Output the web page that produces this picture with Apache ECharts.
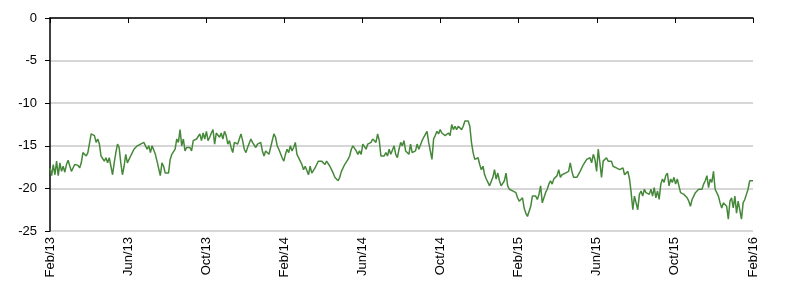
<!DOCTYPE html>
<html>
<head>
<meta charset="utf-8">
<script src="https://cdn.jsdelivr.net/npm/echarts@6/dist/echarts.min.js"></script>
<style>
html,body{margin:0;padding:0;background:#fff;}
#chart{width:800px;height:293px;}
</style>
</head>
<body>
<div id="chart"></div>
<script>
// Tick labels for the x axis, one every 4 months from Feb/13 to Feb/16
const tickLabels = ["Feb/13","Jun/13","Oct/13","Feb/14","Jun/14","Oct/14","Feb/15","Jun/15","Oct/15","Feb/16"];
const monthsSpan = 36;

const values2013a = [
-17.6,-18.5,-17.2,-18.4,-16.8,-18.5,-17.0,-18.0,-17.4,-18.1,-17.2,-16.7,-16.8,-18.0,-17.6,-17.2,-17.4,-17.3,-17.6,-17.0,
-15.8,-15.6,-16.2,-15.8,-15.6,-13.6,-13.6,-13.8,-14.6,-14.2,-14.8,-16.2,-16.4,-16.8,-16.4,-17.0,-16.4,-17.4,-18.4,-17.0,
-15.8,-14.8,-15.2,-17.0,-18.4,-17.4,-16.0,-17.0,-16.6,-16.2,-15.8,-15.4,-15.3,-15.0,-15.0,-14.8,-15.0,-14.6,-15.0,-15.4,
-15.0,-15.8,-15.0,-15.2,-16.0,-16.8,-17.0,-18.5,-17.0,-17.4,-18.2,-18.0
];
const values2013b = [
-18.2,-16.6,-16.0,-16.2,-15.4,-14.2,-14.6,-13.1,-15.0,-14.2,
-15.6,-15.2,-15.4,-15.2,-15.6,-14.4,-14.6,-14.2,-14.4,-13.6,
-14.4,-13.5,-14.2,-13.3,-14.4,-14.0,-13.5,-13.1,-14.8,-13.5,
-13.3,-14.0,-13.5,-14.2,-13.3,-13.8,-14.8,-14.4,-15.2,-15.8,
-14.6,-14.4,-14.8,-14.2,-13.6,-14.4,-15.4,-15.8,-15.2,-15.4,
-14.2,-14.6,-14.4,-15.2,-14.8,-15.0,-14.6,-15.6,-16.2,-15.6,
-15.4,-16.0,-15.2,-14.4,-13.6,-14.0,-15.0,-15.4,-15.6,-16.4,
-16.8
];
const values2014a = [
-16.0,-15.4,-15.8,-15.0,-15.6,-15.2,-14.6,-16.0,-15.8,-16.8,
-17.2,-17.8,-17.4,-17.6,-18.4,-17.4,-18.2,-18.0,-17.6,-17.2,
-16.8,-16.6,-16.8,-17.0,-17.2,-16.8,-17.0,-17.4,-17.8,-18.2,
-18.7,-18.9,-19.1,-18.7,-18.0,-17.8,-17.2,-17.0,-16.6,-16.2,
-15.4,-15.0,-15.2,-15.6,-16.0,-15.6,-16.0,-14.8,-15.0,-15.4,
-14.8,-15.0,-14.6,-14.2,-14.0,-14.6,-13.6,-14.4,-16.2,-16.0,
-16.2,-15.8,-16.2,-15.4,-16.0,-16.2,-15.0,-16.0,-16.4,-15.4,
-14.6
];
const values2014b = [
-15.0,-14.4,-15.6,-15.4,-16.0,-14.8,-15.8,-16.0,-15.6,-14.8,
-15.4,-15.2,-14.4,-14.0,-14.2,-13.3,-14.6,-14.4,-16.6,-14.2,
-13.8,-13.3,-13.6,-13.1,-13.5,-13.6,-13.8,-13.6,-13.5,-13.8,
-12.5,-13.1,-12.7,-13.1,-12.7,-12.9,-13.1,-12.7,-12.1,-12.3,
-12.1,-12.7,-14.6,-15.8,-16.6,-16.8,-16.4,-17.2,-17.8,-17.4,
-18.4,-18.9,-19.3,-19.7,-19.5,-18.7,-17.8,-18.9,-18.2,-19.1,
-19.7,-19.9,-19.1,-18.2,-19.7,-20.1,-19.9,-20.3,-20.1,-20.5,
-21.1,-21.5
];
const values2015a = [
-21.3,-21.1,-22.3,-22.9,-23.3,-23.1,-22.1,-20.9,-20.7,-20.9,
-21.3,-20.7,-19.7,-21.7,-21.5,-20.5,-20.1,-19.5,-19.1,-19.5,
-18.9,-18.7,-18.5,-17.8,-18.7,-18.4,-18.5,-18.2,-18.4,-18.0,
-17.0,-18.0,-18.7,-18.9,-18.7,-18.9,-18.0,-18.0,-17.2,-17.4,
-16.6,-16.8,-16.4,-17.0,-16.0,-16.6,-18.0,-15.4,-17.0,-18.7,
-16.8,-16.8,-16.4,-16.8,-17.0,-16.8,-17.4,-17.2,-17.6,-17.4,
-17.8,-18.0,-17.6,-18.4,-18.5,-18.0,-18.9,-20.5,-22.5,-20.9,
-21.1
];
const values2015b = [
-22.5,-20.7,-20.3,-20.9,-20.1,-20.5,-20.3,-20.7,-20.1,-20.9,
-19.9,-21.1,-20.3,-21.3,-19.5,-18.9,-19.3,-18.5,-18.2,-19.7,
-18.9,-19.3,-18.7,-19.5,-18.9,-19.7,-20.5,-20.7,-20.7,-20.9,
-21.1,-21.5,-22.1,-21.3,-20.9,-20.5,-20.3,-20.1,-19.9,-20.1,
-19.5,-19.1,-18.5,-19.9,-18.9,-19.3,-18.0,-20.1,-20.3,-20.9,
-21.7,-22.3,-21.7,-21.5,-22.1,-23.6,-21.5,-21.1,-22.3,-20.9,
-22.9,-21.5,-21.3,-23.6,-21.7,-21.3,-20.7,-20.1,-19.1,-19.3,
-19.1
];

const values = [].concat(values2013a, values2013b, values2014a, values2014b, values2015a, values2015b);
const seriesData = values.map((v, i) => [i * monthsSpan / (values.length - 1), v]);

const chart = echarts.init(document.getElementById('chart'), null, {renderer: 'canvas'});
chart.setOption({
  animation: false,
  backgroundColor: '#ffffff',
  grid: {left: 50, right: 47, top: 18, bottom: 62, containLabel: false},
  xAxis: {
    type: 'value',
    min: 0,
    max: monthsSpan,
    interval: 4,
    axisLine: {show: true, lineStyle: {color: '#000000', width: 1.5}},
    axisTick: {show: true, length: 5, lineStyle: {color: '#000000', width: 1}},
    splitLine: {show: false},
    axisLabel: {
      rotate: 90,
      margin: 6,
      color: '#000000',
      fontFamily: 'Liberation Sans, Arial, sans-serif',
      fontSize: 13,
      showMinLabel: true,
      showMaxLabel: true,
      formatter: function (val) { return tickLabels[Math.round(val / 4)] || ''; }
    }
  },
  yAxis: {
    type: 'value',
    min: -25,
    max: 0,
    interval: 5,
    axisLine: {show: true, lineStyle: {color: '#000000', width: 1.5}},
    axisTick: {show: true, length: 5, lineStyle: {color: '#000000', width: 1}},
    splitLine: {show: true, lineStyle: {color: '#c8c8c8', width: 1.5}},
    axisLabel: {
      margin: 13,
      color: '#000000',
      fontFamily: 'Liberation Sans, Arial, sans-serif',
      fontSize: 13
    }
  },
  series: [{
    type: 'line',
    data: seriesData,
    showSymbol: false,
    symbol: 'none',
    lineStyle: {color: '#46883a', width: 1.5},
    itemStyle: {color: '#46883a'}
  }]
});
</script>
</body>
</html>
